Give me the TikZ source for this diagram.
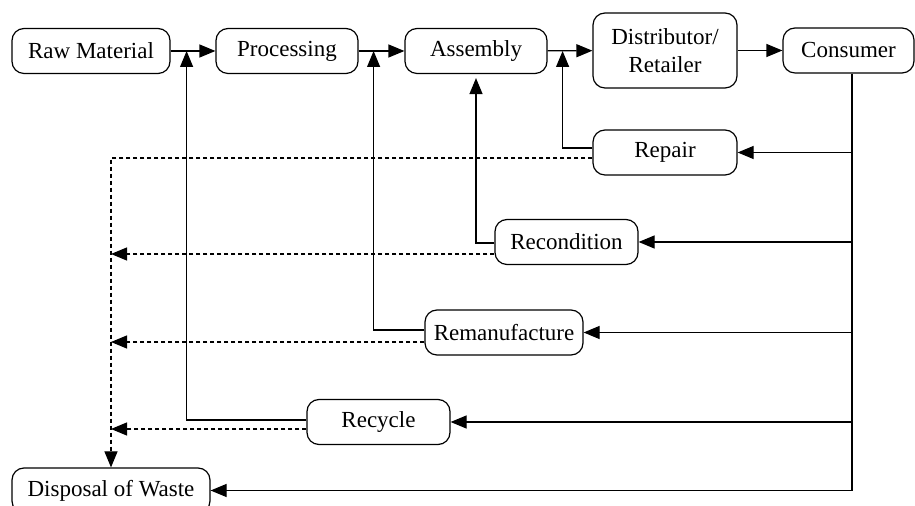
\documentclass[tikz,border=0pt]{standalone}
\usepackage{fontspec}
\setmainfont{Liberation Serif}
\usetikzlibrary{arrows.meta,positioning}
\tikzset{
    %Define standard arrow tip
    >={Triangle[length=8pt,width=6.5pt]},
    %Define style for boxes
    stage/.style={
           rectangle,
           rounded corners=6pt,
           draw=black, line width=0.6pt,
           minimum height=22.5pt,
           inner sep=2pt,
           font=\fontsize{11.5}{14}\selectfont,
           align=center},
    % Define arrow styles
    flow/.style={
           ->,
           line width=0.6pt},
    waste/.style={
           ->,
           line width=0.6pt,
           dash pattern=on 2pt off 1.5pt},
}
\begin{document}
\begin{tikzpicture}[x=0.5pt,y=-0.5pt]
\useasboundingbox (0,0) rectangle (915,506);
% forward chain
\node[stage, minimum width=79pt](raw) at (91,51){Raw Material};
\node[stage, minimum width=71pt](proc) at (287,51){Processing};
\node[stage, minimum width=71pt](asm) at (476,51){Assembly};
\node[stage, minimum width=72pt, minimum height=37.5pt](dist) at (665,50.5){Distributor/\\Retailer};
\node[stage, minimum width=65.5pt](cons) at (848.5,50.5){Consumer};
% recovery options
\node[stage, minimum width=72pt](repair) at (665,152.5){Repair};
\node[stage, minimum width=71.5pt](recond) at (566.5,242){Recondition};
\node[stage, minimum width=79pt](reman) at (504,332.5){Remanufacture};
\node[stage, minimum width=71.5pt](recycle) at (378.5,422){Recycle};
\node[stage, minimum width=99pt](disp) at (111,490.5){Disposal of Waste};
% joints
\coordinate (r2p) at ([xshift=8pt]raw.east);
\coordinate (p2a) at ([xshift=7.5pt]proc.east);
\coordinate (a2d) at ([xshift=7.5pt]asm.east);
\coordinate (bus) at ([xshift=1.75pt]cons.south);
\path[flow]
    (raw) edge (proc)
    (proc) edge (asm)
    (asm) edge (dist)
    (dist) edge (cons);
% consumer returns
\draw[flow] (bus) |- (disp.east);
\draw[flow] (bus |- repair.east) -- (repair.east);
\draw[flow] (bus |- recond.east) -- (recond.east);
\draw[flow] (bus |- reman.east) -- (reman.east);
\draw[flow] (bus |- recycle.east) -- (recycle.east);
% back into the chain
\draw[flow] ([yshift=2.25pt]repair.west) -| (a2d);
\draw[flow, shorten >=2pt] ([yshift=-0.5pt]recond.west) -| (asm.south);
\draw[flow] ([yshift=1.25pt]reman.west) -| (p2a);
\draw[flow] ([yshift=1pt]recycle.west) -| (r2p);
% to waste
\draw[waste] ([yshift=-2.75pt]repair.west) -| (disp.north);
\draw[waste] ([yshift=-6pt]recond.west) -- ([yshift=-6pt]recond.west -| disp.north);
\draw[waste] ([yshift=-4.75pt]reman.west) -- ([yshift=-4.75pt]reman.west -| disp.north);
\draw[waste] ([yshift=-3.5pt]recycle.west) -- ([yshift=-3.5pt]recycle.west -| disp.north);
\end{tikzpicture}
\end{document}
